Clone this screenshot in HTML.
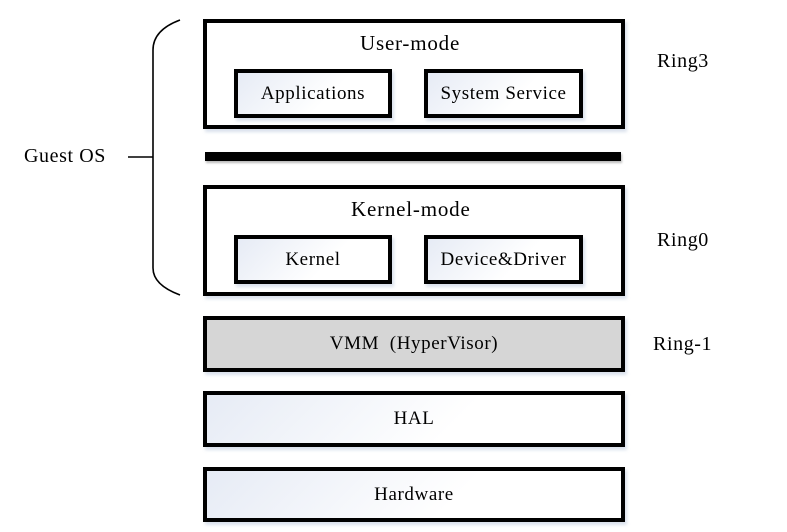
<!DOCTYPE html>
<html><head><style>
body{margin:0;width:787px;height:532px;background:#fff;position:relative;overflow:hidden;font-family:"Liberation Serif",serif;color:#000}
.b{position:absolute;box-sizing:border-box;border:4px solid #000;box-shadow:2px 3px 3px rgba(150,170,200,0.35);background:#fff}
.g{background:linear-gradient(135deg,#e6ebf5,#fff 60%)}
.c{display:flex;align-items:center;justify-content:center;font-size:19px;letter-spacing:0.6px}
.t{position:absolute;font-size:20px;letter-spacing:0.6px;white-space:nowrap}
</style></head><body>
<svg width="787" height="532" style="position:absolute;left:0;top:0">
<path d="M180,20 Q153,30 153,50 L153,268 Q153,285 180,295" fill="none" stroke="#000" stroke-width="1.6"/>
<line x1="128" y1="157" x2="153" y2="157" stroke="#000" stroke-width="1.6"/>
</svg>
<div class="b" style="left:203px;top:19px;width:422px;height:110px"></div>
<div class="t" style="left:360px;top:31px;font-size:21px;letter-spacing:0.8px">User-mode</div>
<div class="b g c" style="left:234px;top:69px;width:158px;height:49px">Applications</div>
<div class="b g c" style="left:424px;top:69px;width:159px;height:49px">System Service</div>
<div style="position:absolute;left:205px;top:152px;width:416px;height:9px;background:#000;box-shadow:1px 2px 2px #bbb"></div>
<div class="b" style="left:203px;top:185px;width:422px;height:111px"></div>
<div class="t" style="left:351px;top:197px;font-size:21px;letter-spacing:0.8px">Kernel-mode</div>
<div class="b g c" style="left:234px;top:235px;width:158px;height:49px">Kernel</div>
<div class="b g c" style="left:424px;top:235px;width:159px;height:49px">Device&amp;Driver</div>
<div class="b c" style="left:203px;top:316px;width:422px;height:56px;background:#d6d6d6">VMM&nbsp;&nbsp;(HyperVisor)</div>
<div class="b g c" style="left:203px;top:391px;width:422px;height:56px">HAL</div>
<div class="b g c" style="left:203px;top:467px;width:422px;height:55px">Hardware</div>
<div class="t" style="left:657px;top:50px">Ring3</div>
<div class="t" style="left:657px;top:229px">Ring0</div>
<div class="t" style="left:653px;top:333px">Ring-1</div>
<div class="t" style="left:24px;top:145px">Guest OS</div>
</body></html>
